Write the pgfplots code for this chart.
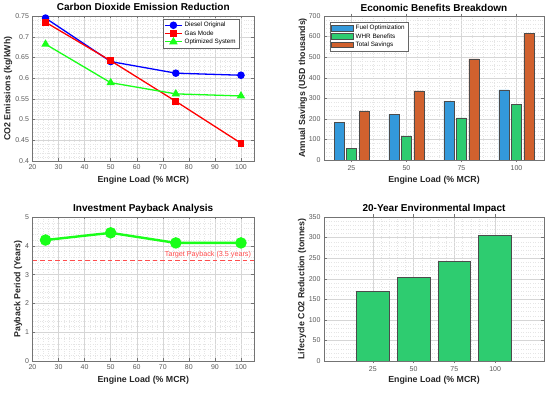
\documentclass[border=0pt]{standalone}
\usepackage{pgfplots}
\pgfplotsset{compat=1.18}
\usepackage{fontspec}
\setmainfont{Liberation Sans}
\definecolor{dgreen}{rgb}{0.18,0.80,0.44}
\definecolor{fblue}{rgb}{0.20,0.60,0.86}
\definecolor{torange}{rgb}{0.82,0.38,0.18}
\definecolor{tred}{rgb}{1,0.3,0.3}
\definecolor{lgreen}{rgb}{0.1,1,0.1}
\pgfplotsset{
 every axis title/.style={at={(0.5,1)}, anchor=base, yshift=5pt, inner sep=0pt, font=\bfseries\fontsize{10}{11}\selectfont},
 matlab/.style={
  scale only axis,
  axis line style={draw=black!55, line width=0.5pt},
  tick style={black!55, line width=0.4pt},
  major tick length=2.5pt,
  tick align=inside,
  grid=both,
  major grid style={black!16, line width=0.4pt},
  minor grid style={black!10, dotted, line width=0.3pt},
  minor tick num=4,
  minor tick length=0pt,
  ticklabel style={font=\fontsize{7}{8}\selectfont, text=black!65},
  label style={font=\bfseries\fontsize{8.8}{10}\selectfont, text=black!85},
  /pgf/number format/assume math mode=true,
  legend cell align=left,
  legend style={font=\fontsize{6.3}{7}\selectfont, draw=black!60, line width=0.4pt, inner sep=1pt, row sep=-1.8pt},
 }
}
\begin{document}
\begin{tikzpicture}[x=1pt,y=1pt]
\path[use as bounding box] (0,0) rectangle (550,393);
% Top-left
\begin{axis}[matlab, at={(32.5pt,232pt)}, anchor=south west, width=221.5pt, height=145pt,
  xmin=20, xmax=105, ymin=0.4, ymax=0.75,
  xtick={20,30,...,100}, ytick={0.4,0.45,...,0.76},
  yticklabels={0.4,0.45,0.5,0.55,0.6,0.65,0.7,0.75},
  title={Carbon Dioxide Emission Reduction},
  xlabel={Engine Load (\% MCR)}, ylabel={CO2 Emissions (kg/kWh)},
  xlabel style={at={(axis description cs:0.5,-0.131)}, anchor=center},
  ylabel style={at={(axis description cs:-0.1106,0.5)}, anchor=center},
  legend style={at={(0.932,0.979)}, anchor=north east},
  ]
\addplot[blue, line width=1.3pt, mark=*, mark size=3.1pt] coordinates {(25,0.745)(50,0.640)(75,0.612)(100,0.607)};
\addlegendentry{Diesel Original}
\addplot[red, line width=1.3pt, mark=square*, mark size=2.7pt] coordinates {(25,0.735)(50,0.642)(75,0.544)(100,0.443)};
\addlegendentry{Gas Mode}
\addplot[lgreen, line width=1.3pt, mark=triangle*, mark size=3.6pt] coordinates {(25,0.682)(50,0.589)(75,0.562)(100,0.557)};
\addlegendentry{Optimized System}
\end{axis}
% Top-right
\begin{axis}[matlab, at={(324pt,233pt)}, anchor=south west, width=220pt, height=144pt,
  xmin=0.5, xmax=4.5, ymin=0, ymax=700,
  xtick={1,2,3,4}, xticklabels={25,50,75,100}, ytick={0,100,...,700},
  title={Economic Benefits Breakdown},
  xlabel={Engine Load (\% MCR)}, ylabel={Annual Savings (USD thousands)},
  xlabel style={at={(axis description cs:0.5,-0.139)}, anchor=center},
  ylabel style={at={(axis description cs:-0.0955,0.5)}, anchor=center},
  ybar, bar width=10pt,
  legend style={at={(0.027,0.958)}, anchor=north west},
  legend image code/.code={\draw[#1] (0pt,-2.8pt) rectangle (22pt,2.8pt);},
  ]
\addplot[fill=fblue, draw=black!70, line width=0.6pt, bar shift=-12.5pt] coordinates {(1,182)(2,222)(3,286)(4,341)};
\addlegendentry{Fuel Optimization}
\addplot[fill=dgreen, draw=black!70, line width=0.6pt, bar shift=0pt] coordinates {(1,57)(2,117)(3,205)(4,272)};
\addlegendentry{WHR Benefits}
\addplot[fill=torange, draw=black!70, line width=0.6pt, bar shift=12.5pt] coordinates {(1,239)(2,336)(3,491)(4,614)};
\addlegendentry{Total Savings}
\end{axis}
% Bottom-left
\begin{axis}[matlab, at={(32.5pt,32pt)}, anchor=south west, width=221.5pt, height=144pt,
  xmin=20, xmax=105, ymin=0, ymax=5,
  xtick={20,30,...,100}, ytick={0,1,...,5},
  title={Investment Payback Analysis},
  xlabel={Engine Load (\% MCR)}, ylabel={Payback Period (Years)},
  xlabel style={at={(axis description cs:0.5,-0.134)}, anchor=center},
  ylabel style={at={(axis description cs:-0.0655,0.5)}, anchor=center},
  ]
\addplot[tred, dashed, dash pattern=on 4.5pt off 3pt, line width=1.2pt] coordinates {(20,3.5)(105,3.5)};
\addplot[lgreen, line width=2.4pt, mark=*, mark size=4.5pt] coordinates {(25,4.2)(50,4.45)(75,4.1)(100,4.1)};
\node[anchor=south east, text=tred, font=\fontsize{7.2}{8}\selectfont, inner sep=1pt] at (axis cs:104.3,3.55) {Target Payback (3.5 years)};
\end{axis}
% Bottom-right
\begin{axis}[matlab, at={(324pt,32pt)}, anchor=south west, width=220pt, height=144pt,
  xmin=-0.2, xmax=5.2, ymin=0, ymax=350,
  xtick={1,2,3,4}, xticklabels={25,50,75,100}, ytick={0,50,...,350},
  title={20-Year Environmental Impact},
  xlabel={Engine Load (\% MCR)}, ylabel={Lifecycle CO2 Reduction (tonnes)},
  xlabel style={at={(axis description cs:0.5,-0.134)}, anchor=center},
  ylabel style={at={(axis description cs:-0.1,0.5)}, anchor=center},
  ybar, bar width=0.8,
  ]
\addplot[fill=dgreen, draw=black!70, line width=0.8pt, bar shift=0pt] coordinates {(1,170)(2,204)(3,242)(4,305)};
\end{axis}
\end{tikzpicture}
\end{document}
